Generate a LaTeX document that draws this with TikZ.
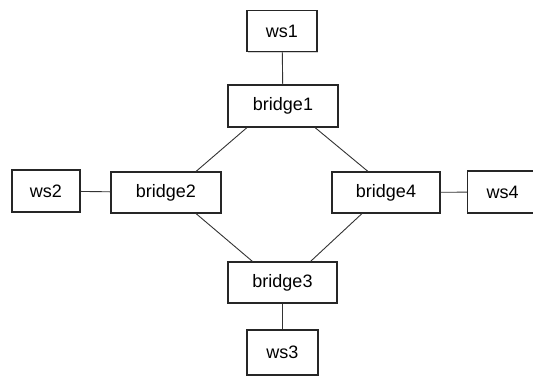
\documentclass[tikz,border=0pt]{standalone}
\usepackage{fontspec}
\setmainfont{Liberation Sans}
\usetikzlibrary{shadows}
\begin{document}
\begin{tikzpicture}[x=1pt,y=-1pt,
  box/.style={draw=black!85,line width=1.1pt,fill=white,
    drop shadow={shadow xshift=1.2pt,shadow yshift=-1.2pt,opacity=.35},
    inner sep=0pt,font=\fontsize{18}{20}\selectfont},
  link/.style={draw=black!80,line width=0.9pt}]
\useasboundingbox (0,0) rectangle (533,378);
% stations and bridges: centre, width, height
\node[box,minimum width=70pt,minimum height=41pt] (ws1) at (282,31) {ws1};
\node[box,minimum width=110pt,minimum height=42pt] (b1) at (283,106) {bridge1};
\node[box,minimum width=110pt,minimum height=41pt] (b2) at (166,192.5) {bridge2};
\node[box,minimum width=108pt,minimum height=41pt] (b4) at (386,192.5) {bridge4};
\node[box,minimum width=109pt,minimum height=41pt] (b3) at (282.5,282.5) {bridge3};
\node[box,minimum width=71pt,minimum height=45pt] (ws3) at (282.5,352.5) {ws3};
\node[box,minimum width=68pt,minimum height=42pt] (ws2) at (46,191) {ws2};
\node[box,minimum width=70pt,minimum height=42pt,anchor=west] (ws4) at (467,192) {ws4};
% links
\draw[link] (ws1) -- (b1);
\draw[link] (b3) -- (ws3);
\draw[link] (ws2) -- (b2);
\draw[link] (b4) -- (ws4);
\draw[link] (b1.south) ++(-36,0) coordinate (c1) (b2.north) ++(30,0) coordinate (c2);
\draw[link] (c1) -- (c2);
\draw[link] (b1.south) ++(32,0) coordinate (c3) (b4.north) ++(-18,0) coordinate (c4);
\draw[link] (c3) -- (c4);
\draw[link] (b2.south) ++(30,0) coordinate (c5) (b3.north) ++(-30,0) coordinate (c6);
\draw[link] (c5) -- (c6);
\draw[link] (b4.south) ++(-24,0) coordinate (c7) (b3.north) ++(28,0) coordinate (c8);
\draw[link] (c7) -- (c8);
\end{tikzpicture}
\end{document}
